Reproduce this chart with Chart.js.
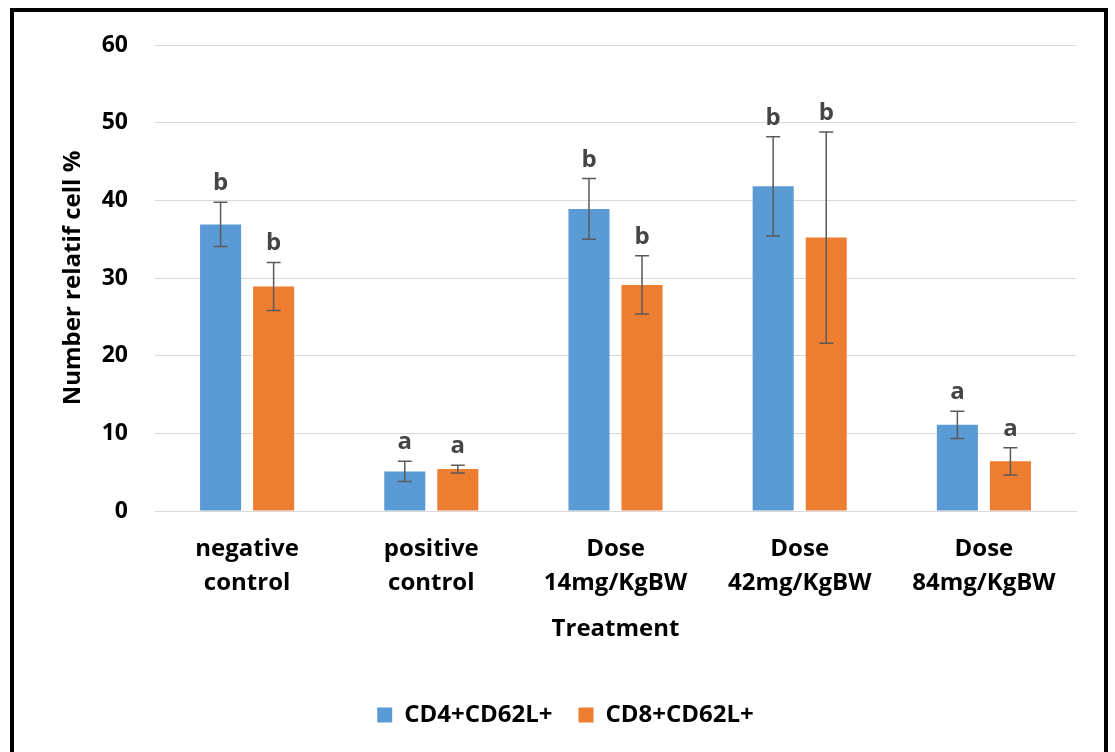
<!DOCTYPE html>
<html>
<head>
<meta charset="utf-8">
<script src="https://cdn.jsdelivr.net/npm/chart.js@4.4.1/dist/chart.umd.min.js"></script>
<style>
  html, body { margin: 0; padding: 0; background: #fff; overflow: hidden; }
  #wrap { position: relative; width: 1115px; height: 752px; }
  #frame {
    position: absolute; left: 10px; top: 8px; width: 1098px; height: 800px;
    border: 4px solid #000; box-sizing: border-box; pointer-events: none;
  }
  canvas { position: absolute; left: 0; top: 0; }
</style>
</head>
<body>
<div id="wrap">
  <canvas id="chart" width="1115" height="752"></canvas>
  <div id="frame"></div>
</div>
<script>
// chart values
const categories = [
    ['negative', 'control'],
    ['positive', 'control'],
    ['Dose', '14mg/KgBW'],
    ['Dose', '42mg/KgBW'],
    ['Dose', '84mg/KgBW']
];
const cd4Values = [36.9, 5.1, 38.9, 41.8, 11.1];
const cd4Errors = [2.85, 1.3, 3.9, 6.4, 1.75];
const cd4Letters = ['b', 'a', 'b', 'b', 'a'];
const cd8Values = [28.9, 5.4, 29.1, 35.2, 6.4];
const cd8Errors = [3.1, 0.5, 3.75, 13.6, 1.75];
const cd8Letters = ['b', 'a', 'b', 'b', 'a'];
const yTicks = [0, 10, 20, 30, 40, 50, 60];

const FONT = "'Open Sans', 'DejaVu Sans', sans-serif";

// error bars + significance letters
const errorBarPlugin = {
    id: 'errorBars',
    afterDatasetsDraw(chart) {
        const ctx = chart.ctx;
        const yScale = chart.scales.y;
        chart.data.datasets.forEach((ds, di) => {
            const meta = chart.getDatasetMeta(di);
            meta.data.forEach((bar, i) => {
                const v = ds.data[i];
                const e = ds.errors[i];
                const yTop = yScale.getPixelForValue(v + e);
                const yBot = yScale.getPixelForValue(v - e);
                const x = bar.x;
                ctx.save();
                ctx.strokeStyle = '#5a5a5a';
                ctx.lineWidth = 1.5;
                ctx.beginPath();
                ctx.moveTo(x, yTop);
                ctx.lineTo(x, yBot);
                ctx.moveTo(x - 7, yTop);
                ctx.lineTo(x + 7, yTop);
                ctx.moveTo(x - 7, yBot);
                ctx.lineTo(x + 7, yBot);
                ctx.stroke();

                ctx.fillStyle = '#454545';
                ctx.font = 'bold 24px ' + FONT;
                ctx.textAlign = 'center';
                ctx.textBaseline = 'alphabetic';
                ctx.fillText(ds.letters[i], x, yTop - 12);
                ctx.restore();
            });
        });
    }
};

new Chart(document.getElementById('chart'), {
    type: 'bar',
    data: {
        labels: categories,
        datasets: [{
            label: 'CD4+CD62L+',
            data: cd4Values,
            errors: cd4Errors,
            letters: cd4Letters,
            backgroundColor: '#5b9bd5',
            categoryPercentage: 0.576,
            barPercentage: 0.774
        }, {
            label: 'CD8+CD62L+',
            data: cd8Values,
            errors: cd8Errors,
            letters: cd8Letters,
            backgroundColor: '#ed7d31',
            categoryPercentage: 0.576,
            barPercentage: 0.774
        }]
    },
    options: {
        responsive: false,
        animation: false,
        devicePixelRatio: 1,
        layout: {
            padding: { top: 45, right: 39, left: 55, bottom: 15 }
        },
        scales: {
            x: {
                grid: { display: false, drawTicks: false },
                border: { color: '#d9d9d9', width: 1 },
                ticks: {
                    color: '#000',
                    padding: 21,
                    font: { family: FONT, size: 24, weight: 'bold', lineHeight: 1.42 }
                },
                title: {
                    display: true,
                    text: 'Treatment',
                    color: '#000',
                    padding: { top: 0, bottom: 33 },
                    font: { family: FONT, size: 24, weight: 'bold' }
                },
                afterFit(scale) { scale.height = 166; }
            },
            y: {
                min: 0,
                max: 60,
                afterBuildTicks(scale) {
                    scale.ticks = yTicks.map(v => ({ value: v }));
                },
                grid: { color: '#d9d9d9', drawTicks: false },
                border: { display: false },
                ticks: {
                    color: '#000',
                    padding: 27,
                    font: { family: FONT, size: 23, weight: 'bold' }
                },
                title: {
                    display: true,
                    text: 'Number relatif cell %',
                    color: '#000',
                    font: { family: FONT, size: 24, weight: 'bold' }
                },
                afterFit(scale) { scale.width = 100; }
            }
        },
        plugins: {
            legend: {
                position: 'bottom',
                labels: {
                    color: '#000',
                    boxWidth: 15,
                    boxHeight: 15,
                    padding: 26,
                    font: { family: FONT, size: 24, weight: 'bold' }
                }
            },
            tooltip: { enabled: false }
        }
    },
    plugins: [errorBarPlugin]
});
</script>
</body>
</html>
